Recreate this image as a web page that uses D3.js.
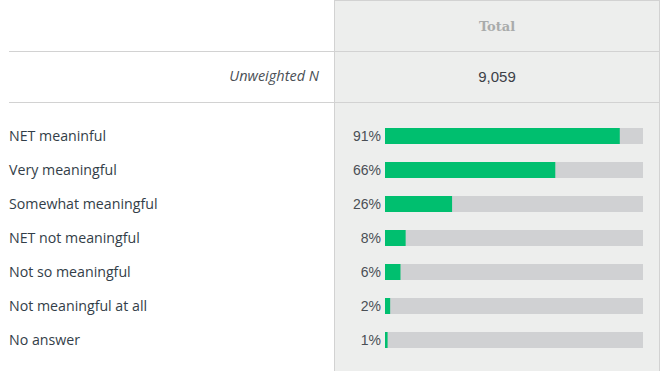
<!DOCTYPE html>
<html lang="en">
<head>
  <meta charset="UTF-8">
  <title>Total</title>
  <script src="https://d3js.org/d3.v7.min.js"></script>
  <style>
    body { margin: 0; background: #fff; }
    svg { display: block; }
  </style>
</head>
<body>
  <div id="chart"></div>
  <script>
  const categories = ['NET meaninful', 'Very meaningful', 'Somewhat meaningful', 'NET not meaningful',
                      'Not so meaningful', 'Not meaningful at all', 'No answer']
  const values = [91, 66, 26, 8, 6, 2, 1]
  const columnTitle = 'Total'
  const baseLabel = 'Unweighted N'
  const baseValue = 9059

  const width = 660, height = 371
  const svg = d3.select('#chart')
                .append('svg')
                .attr('width', width)
                .attr('height', height)

  // grey column with its borders
  svg.append('rect')
    .attr('x', 334).attr('y', 0)
    .attr('width', 325).attr('height', height)
    .attr('fill', '#edeeed')
  svg.append('line')
    .attr('x1', 334.5).attr('x2', 334.5).attr('y1', 0).attr('y2', height)
    .attr('stroke', '#d2d2d2')
  svg.append('line')
    .attr('x1', 659.5).attr('x2', 659.5).attr('y1', 0).attr('y2', height)
    .attr('stroke', '#d2d2d2')
  svg.append('line')
    .attr('x1', 334).attr('x2', 660).attr('y1', 0.5).attr('y2', 0.5)
    .attr('stroke', '#d2d2d2')
  svg.selectAll('line.rule')
    .data([51.5, 102.5])
    .enter()
    .append('line')
    .attr('class', 'rule')
    .attr('x1', 9).attr('x2', 660)
    .attr('y1', d => d).attr('y2', d => d)
    .attr('stroke', '#d2d2d2')

  // header texts
  svg.append('text')
    .attr('x', 497).attr('y', 31)
    .attr('text-anchor', 'middle')
    .style('font-family', '"DejaVu Serif", serif')
    .style('font-weight', 'bold')
    .style('font-size', '13px')
    .attr('fill', '#a9abab')
    .text(columnTitle)
  svg.append('text')
    .attr('x', 319).attr('y', 81)
    .attr('text-anchor', 'end')
    .style('font-family', '"Open Sans", sans-serif')
    .style('font-style', 'italic')
    .style('font-size', '14.5px')
    .attr('fill', '#4a4f55')
    .text(baseLabel)
  svg.append('text')
    .attr('x', 497).attr('y', 82)
    .attr('text-anchor', 'middle')
    .style('font-family', '"Liberation Sans", Arial, sans-serif')
    .style('font-size', '15px')
    .attr('fill', '#3c4047')
    .text(d3.format(',')(baseValue))

  const xScale = d3.scaleLinear()
                   .domain([0, 100])
                   .range([385, 643])
  const yScale = d3.scalePoint()
                   .domain(categories)
                   .range([136, 340])
  const barH = 16
  const rows = categories.map((c, i) => ({ cat: c, val: values[i] }))

  // track
  svg.selectAll('rect.track')
    .data(rows)
    .enter()
    .append('rect')
    .attr('class', 'track')
    .attr('x', xScale(0))
    .attr('y', d => yScale(d.cat) - barH / 2)
    .attr('width', xScale(100) - xScale(0))
    .attr('height', barH)
    .attr('fill', '#d0d1d3')

  svg.selectAll('rect.bar')
    .data(rows)
    .enter()
    .append('rect')
    .attr('class', 'bar')
    .attr('x', xScale(0))
    .attr('y', d => yScale(d.cat) - barH / 2)
    .attr('width', d => xScale(d.val) - xScale(0))
    .attr('height', barH)
    .attr('fill', '#00bf6f')

  svg.selectAll('text.pct')
    .data(rows)
    .enter()
    .append('text')
    .attr('class', 'pct')
    .attr('x', 381)
    .attr('y', d => yScale(d.cat) + 5)
    .attr('text-anchor', 'end')
    .style('font-family', '"Liberation Sans", Arial, sans-serif')
    .style('font-size', '14px')
    .attr('fill', '#4a4f55')
    .text(d => d.val + '%')

  svg.selectAll('text.cat')
    .data(rows)
    .enter()
    .append('text')
    .attr('class', 'cat')
    .attr('x', 9)
    .attr('y', d => yScale(d.cat) + 5)
    .style('font-family', '"Open Sans", sans-serif')
    .style('font-size', '14.2px')
    .attr('fill', '#333e48')
    .text(d => d.cat)
  </script>
</body>
</html>
